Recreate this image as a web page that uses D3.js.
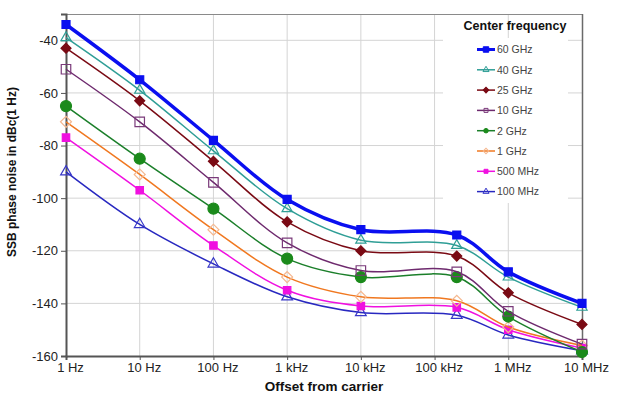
<!DOCTYPE html>
<html><head><meta charset="utf-8">
<script src="https://cdn.jsdelivr.net/npm/d3@7/dist/d3.min.js"></script>
<style>body{margin:0;background:#fff}svg{display:block;font-family:Arial,"Liberation Sans",sans-serif}</style>
</head><body><svg id="c" width="618" height="399"></svg>
<script>
// offsets from carrier (Hz)
const offsets = [1, 10, 100, 1e3, 1e4, 2e5, 1e6, 1e7];
const tickValues = [1, 10, 100, 1e3, 1e4, 1e5, 1e6, 1e7];
const tickLabels = ["1 Hz", "10 Hz", "100 Hz", "1 kHz", "10 kHz", "100 kHz", "1 MHz", "10 MHz"];
const yTicks = [-40, -60, -80, -100, -120, -140, -160];
const seriesNames = ["60 GHz", "40 GHz", "25 GHz", "10 GHz", "2 GHz", "1 GHz", "500 MHz", "100 MHz"];
const s60GHz  = [-34, -55, -78, -100.5, -112, -114, -128, -140];
const s40GHz  = [-39, -59, -82, -104, -116, -118, -130, -141.5];
const s25GHz  = [-43, -63, -86, -109, -120, -122, -136, -148];
const s10GHz  = [-51, -71, -94, -117, -127.5, -128, -143, -155.5];
const s2GHz   = [-65, -85, -104, -123, -130, -130, -145, -158.5];
const s1GHz   = [-71, -91, -112, -130, -137.5, -139, -149, -156];
const s500MHz = [-77, -97, -118, -135, -141, -141.5, -150, -157];
const s100MHz = [-90, -110, -125, -137.5, -143.5, -144.5, -152, -158];

const seriesValues = [s60GHz, s40GHz, s25GHz, s10GHz, s2GHz, s1GHz, s500MHz, s100MHz];
const styles = [
  {line:"#0a0ff0", width:3.5, sym:d3.symbolSquare, size:64, fill:"#0a0ff0", stroke:"#0a0ff0", rot:0},
  {line:"#2f9e96", width:1.5, sym:d3.symbolTriangle, size:45, fill:"none", stroke:"#2f9e96", rot:0},
  {line:"#7a0a14", width:1.5, sym:d3.symbolSquare, size:50, fill:"#7a0a14", stroke:"#7a0a14", rot:45},
  {line:"#6e2a6e", width:1.5, sym:d3.symbolSquare, size:90, fill:"none", stroke:"#7a3a7a", rot:0},
  {line:"#1b7f2a", width:1.5, sym:d3.symbolCircle, size:95, fill:"#1b8a1b", stroke:"#1b8a1b", rot:0},
  {line:"#f07820", width:1.5, sym:d3.symbolSquare, size:60, fill:"none", stroke:"#f5b890", rot:45},
  {line:"#f010e0", width:1.5, sym:d3.symbolSquare, size:55, fill:"#f010e0", stroke:"#f010e0", rot:0},
  {line:"#2828c0", width:1.5, sym:d3.symbolTriangle, size:50, fill:"none", stroke:"#3838c8", rot:0}
];

const svg = d3.select("#c");
const m = {l:66, r:36, t:14, b:43};
const W = 618, H = 399;
const x = d3.scaleLog().domain([1, 1e7]).range([m.l, W - m.r]);
const y = d3.scaleLinear().domain([-160, -30]).range([H - m.b, m.t]);

// gridlines
const g = svg.append("g");
g.selectAll(".vg").data(tickValues.slice(1, -1)).join("line")
  .attr("x1", d => x(d)).attr("x2", d => x(d)).attr("y1", m.t).attr("y2", H - m.b)
  .attr("stroke", "#d4d4d4").attr("stroke-width", 1);
g.selectAll(".hg").data(yTicks.filter(d => d > -160)).join("line")
  .attr("x1", m.l).attr("x2", W - m.r).attr("y1", d => y(d)).attr("y2", d => y(d))
  .attr("stroke", "#d4d4d4").attr("stroke-width", 1);

// frame top/right
svg.append("line").attr("x1", m.l).attr("x2", W - m.r).attr("y1", m.t + 0.5).attr("y2", m.t + 0.5).attr("stroke", "#8a8a8a");
svg.append("line").attr("x1", W - m.r + 0.5).attr("x2", W - m.r + 0.5).attr("y1", m.t).attr("y2", H - m.b).attr("stroke", "#6a6a6a").attr("stroke-width", 1.5);

// legend background
svg.append("rect").attr("x", 443).attr("y", 38).attr("width", 125).attr("height", 165).attr("fill", "#fff");

// axes
const xAxis = d3.axisBottom(x).tickValues(tickValues).tickFormat((d, i) => tickLabels[i]).tickSize(4).tickPadding(3);
const yAxis = d3.axisLeft(y).tickValues(yTicks).tickFormat(d => String(d)).tickSize(5).tickPadding(3);
const xa = svg.append("g").attr("transform", `translate(0,${H - m.b})`).call(xAxis);
const ya = svg.append("g").attr("transform", `translate(${m.l},0)`).call(yAxis);
[xa, ya].forEach(a => {
  a.select(".domain").attr("stroke", "#555").attr("stroke-width", 2);
  a.selectAll(".tick line").attr("stroke", "#555");
  a.selectAll("text").attr("font-size", 13).attr("fill", "#222").attr("font-family", "Arial, 'Liberation Sans', sans-serif");
});
xa.selectAll("text").attr("dx", 4);

// series
const line = d3.line().x((d, i) => x(offsets[i])).y(d => y(d)).curve(d3.curveCatmullRom.alpha(0.5));
const order = [7, 6, 5, 4, 3, 2, 1, 0];
order.forEach(k => {
  const st = styles[k];
  svg.append("path").datum(seriesValues[k]).attr("d", line)
    .attr("fill", "none").attr("stroke", st.line).attr("stroke-width", st.width);
  svg.append("g").selectAll("path").data(seriesValues[k]).join("path")
    .attr("transform", (d, i) => `translate(${x(offsets[i])},${y(d)}) rotate(${st.rot})`)
    .attr("d", d3.symbol().type(st.sym).size(st.size))
    .attr("fill", st.fill).attr("stroke", st.stroke).attr("stroke-width", 1.2);
});

// legend
svg.append("text").attr("x", 515).attr("y", 30).attr("text-anchor", "middle")
  .attr("font-size", 12.5).attr("font-weight", "bold").attr("fill", "#111").text("Center frequency");
const lg = svg.append("g");
seriesNames.forEach((name, i) => {
  const st = styles[i];
  const yy = 49.5 + i * 20.3;
  lg.append("line").attr("x1", 477).attr("x2", 495).attr("y1", yy).attr("y2", yy)
    .attr("stroke", st.line).attr("stroke-width", i === 0 ? 3 : 1.5);
  lg.append("path").attr("transform", `translate(486,${yy}) rotate(${st.rot})`)
    .attr("d", d3.symbol().type(st.sym).size(i === 0 ? 30 : 16))
    .attr("fill", st.fill).attr("stroke", st.stroke).attr("stroke-width", 1);
  lg.append("text").attr("x", 497).attr("y", yy + 3.8).attr("font-size", 10.5).attr("fill", "#444").text(name);
});

// axis titles
svg.append("text").attr("x", 324).attr("y", 391).attr("text-anchor", "middle")
  .attr("font-size", 13.5).attr("font-weight", "bold").attr("fill", "#111").text("Offset from carrier");
svg.append("text").attr("transform", "translate(16,172) rotate(-90)").attr("text-anchor", "middle")
  .attr("font-size", 12).attr("font-weight", "bold").attr("fill", "#111").text("SSB phase noise in dBc(1 Hz)");
</script></body></html>
